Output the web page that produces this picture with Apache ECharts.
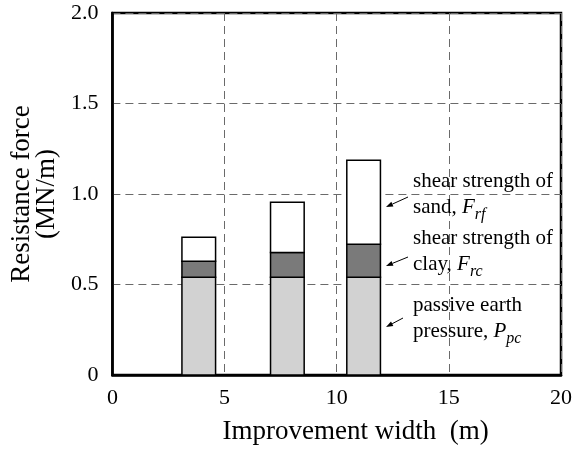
<!DOCTYPE html>
<html>
<head>
<meta charset="utf-8">
<script src="https://cdn.jsdelivr.net/npm/echarts@6/dist/echarts.min.js"></script>
<style>
  html, body { margin: 0; padding: 0; background: #fff; }
  #chart { width: 575px; height: 452px; }
</style>
</head>
<body>
<div id="chart"></div>
<script>
// Improvement width of each case (m), bar centres
const widths = [3.85, 7.8, 11.2];
// Stacked resistance components (MN/m)
const passivePressure = [0.54, 0.54, 0.54];   // P_pc
const clayShear = [0.088, 0.137, 0.183];      // F_rc
const sandShear = [0.133, 0.278, 0.463];      // F_rf

const barSpan = 1.5; // bar width in metres
const serif = "'Liberation Serif', 'Times New Roman', serif";

// Build [x, base, top] triples for each stacked layer
function layer(values, below) {
  return widths.map((x, i) => {
    const base = below.reduce((s, arr) => s + arr[i], 0);
    return [x, base, base + values[i]];
  });
}

function renderBar(params, api) {
  const x = api.value(0);
  const p0 = api.coord([x - barSpan / 2, api.value(1)]);
  const p1 = api.coord([x + barSpan / 2, api.value(2)]);
  return {
    type: 'rect',
    shape: { x: p0[0], y: p1[1], width: p1[0] - p0[0], height: p0[1] - p1[1] },
    style: api.style({ stroke: '#000', lineWidth: 1.5 })
  };
}

function stackSeries(name, data, color) {
  return {
    name: name,
    type: 'custom',
    renderItem: renderBar,
    encode: { x: 0, y: [1, 2] },
    itemStyle: { color: color },
    data: data,
    z: 3
  };
}

const chart = echarts.init(document.getElementById('chart'), null, { renderer: 'canvas' });

const rich = {
  n: { fontFamily: serif, fontSize: 21, color: '#000' },
  i: { fontFamily: serif, fontSize: 21, fontStyle: 'italic', color: '#000' },
  s: { fontFamily: serif, fontSize: 16, fontStyle: 'italic', color: '#000', padding: [14, 0, 0, 0] }
};

function label(x, y, text) {
  return {
    type: 'text', left: x, top: y, z: 10,
    style: { text: text, rich: rich, font: '21px ' + serif, fill: '#000', textVerticalAlign: 'middle' }
  };
}

function arrow(x1, y1, x2, y2) {
  const ang = Math.atan2(y2 - y1, x2 - x1);
  const L = 7, W = 2.5;
  const bx = x2 - L * Math.cos(ang), by = y2 - L * Math.sin(ang);
  const nx = -Math.sin(ang), ny = Math.cos(ang);
  return [
    { type: 'line', z: 10, shape: { x1: x1, y1: y1, x2: bx, y2: by }, style: { stroke: '#000', lineWidth: 1 } },
    { type: 'polygon', z: 10, shape: { points: [[x2, y2], [bx + nx * W, by + ny * W], [bx - nx * W, by - ny * W]] }, style: { fill: '#000' } }
  ];
}

const option = {
  backgroundColor: '#fff',
  animation: false,
  grid: { left: 111, top: 13, width: 455, height: 362, show: true, borderColor: '#000', borderWidth: 2.5, backgroundColor: 'transparent' },
  xAxis: {
    type: 'value', min: 0, max: 20, interval: 5,
    name: 'Improvement width  (m)', nameLocation: 'middle', nameGap: 43,
    nameTextStyle: { fontFamily: serif, fontSize: 27, color: '#000', padding: [0, 0, 0, 38] },
    axisLine: { lineStyle: { color: '#000', width: 2.5 } },
    axisTick: { show: false },
    axisLabel: { fontFamily: serif, fontSize: 22, color: '#000', margin: 12 },
    splitLine: { show: true, lineStyle: { color: '#6a6a6a', type: [8, 5], width: 1 } }
  },
  yAxis: {
    type: 'value', min: 0, max: 2, interval: 0.5,
    name: 'Resistance force\n(MN/m)', nameLocation: 'middle', nameGap: 53, nameRotate: 90,
    nameTextStyle: { fontFamily: serif, fontSize: 27, color: '#000', lineHeight: 25, padding: [0, 0, 0, 0] },
    axisLine: { show: true, lineStyle: { color: '#000', width: 2.5 } },
    axisTick: { show: false },
    axisLabel: { fontFamily: serif, fontSize: 22, color: '#000', margin: 14,
      formatter: v => (v === 0 ? '0' : v.toFixed(1)) },
    splitLine: { show: true, lineStyle: { color: '#6a6a6a', type: [8, 5], width: 1 } }
  },
  series: [
    stackSeries('passive earth pressure', layer(passivePressure, []), '#d2d2d2'),
    stackSeries('shear strength of clay', layer(clayShear, [passivePressure]), '#7a7a7a'),
    stackSeries('shear strength of sand', layer(sandShear, [passivePressure, clayShear]), '#ffffff')
  ],
  graphic: [
    label(413, 171, '{n|shear strength of}'),
    label(413, 197, '{n|sand, }{i|F}{s|rf}'),
    label(413, 228, '{n|shear strength of}'),
    label(413, 254, '{n|clay, }{i|F}{s|rc}'),
    label(413, 295, '{n|passive earth}'),
    label(413, 321, '{n|pressure, }{i|P}{s|pc}'),
    ...arrow(408, 197, 386, 207),
    ...arrow(408, 257, 386, 266),
    ...arrow(403, 318, 386, 327)
  ]
};

chart.setOption(option);
</script>
</body>
</html>
